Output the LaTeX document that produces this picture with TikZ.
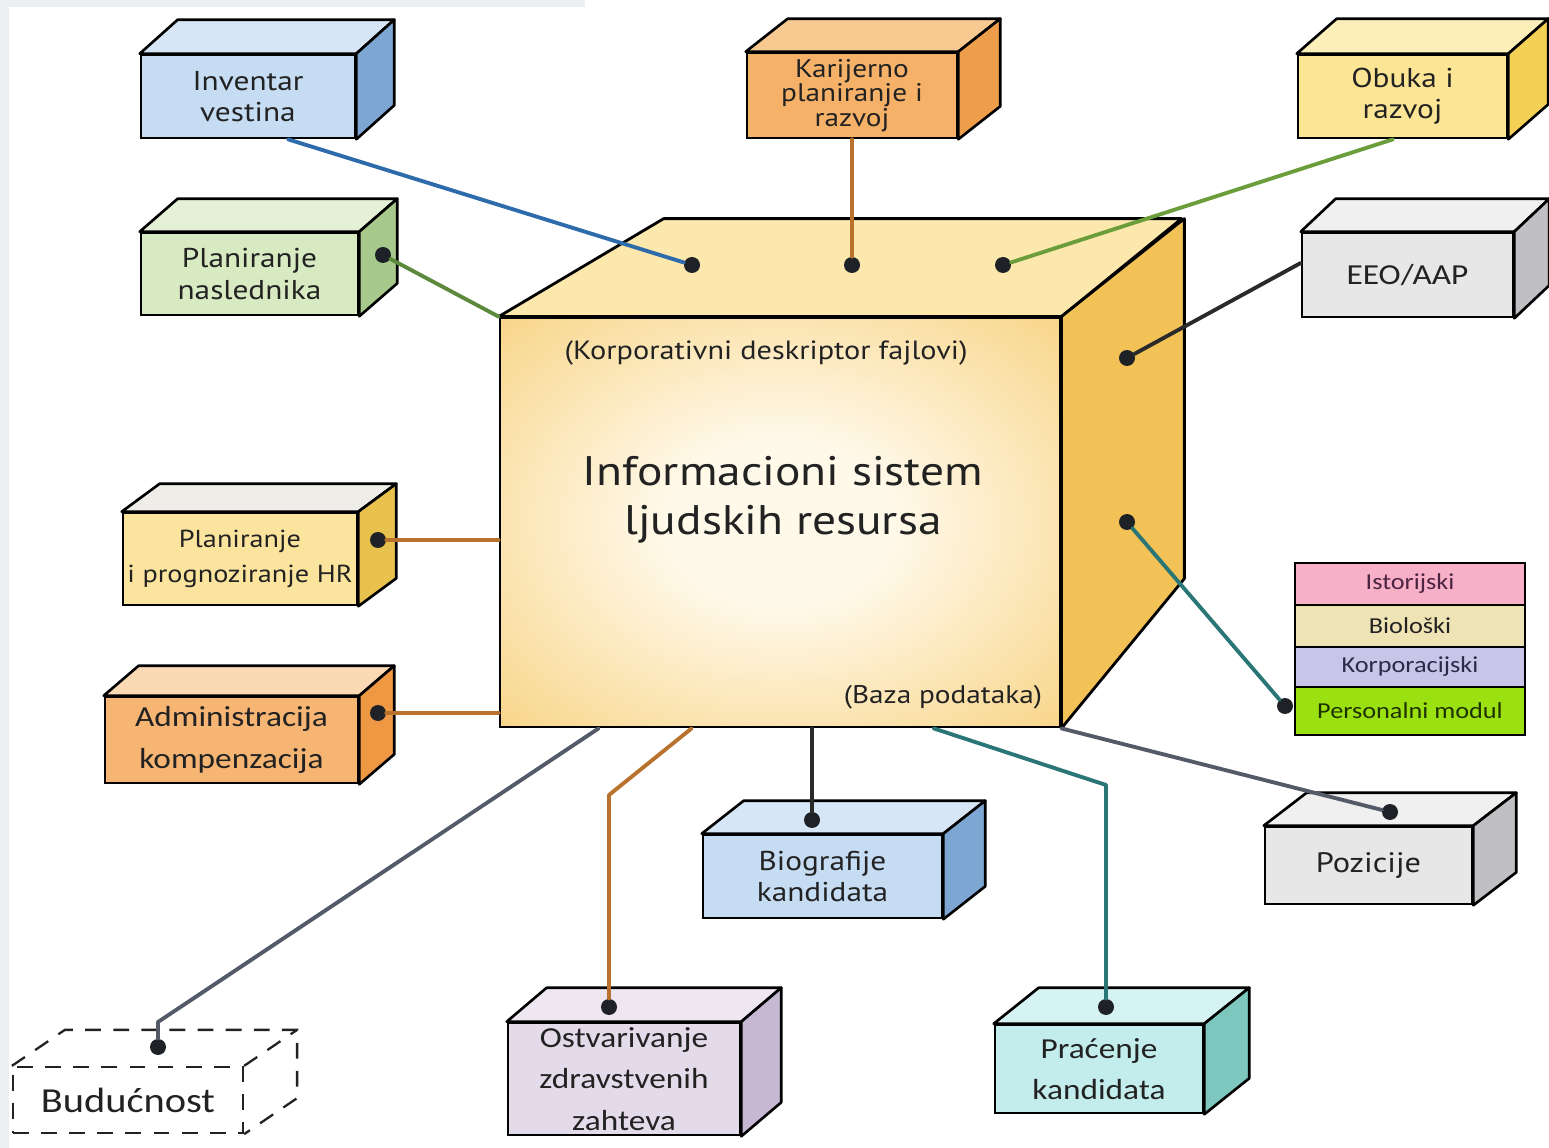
\documentclass[tikz,border=0pt]{standalone}
\usepackage{fontspec}
\setmainfont[FakeStretch=1.15]{Carlito}
\newfontfamily\optfont[FakeStretch=1.15]{PT Sans}
\usetikzlibrary{positioning}

\definecolor{txt}{HTML}{222222}
\definecolor{stripc}{HTML}{ECEFF2}
\definecolor{glowin}{HTML}{FFF9EA}
\definecolor{glowout}{HTML}{F7CF78}
\definecolor{cubetop}{HTML}{FCE7AD}
\definecolor{cubeside}{HTML}{F3C256}
\definecolor{bluef}{HTML}{C5DCF2}
\definecolor{bluet}{HTML}{D6E6F6}
\definecolor{blues}{HTML}{7EA6D3}
\definecolor{greenf}{HTML}{D7EAC2}
\definecolor{greent}{HTML}{E4F1D6}
\definecolor{greens}{HTML}{A7C98B}
\definecolor{orangef}{HTML}{F5B168}
\definecolor{oranget}{HTML}{F8C990}
\definecolor{oranges}{HTML}{EE9E4A}
\definecolor{yellowf}{HTML}{FCE594}
\definecolor{yellowt}{HTML}{FDEFBA}
\definecolor{yellows}{HTML}{F4D054}
\definecolor{grayf}{HTML}{E7E7E7}
\definecolor{grayt}{HTML}{F0F0F0}
\definecolor{grays}{HTML}{BFBFC4}
\definecolor{hrf}{HTML}{FBE59E}
\definecolor{hrt}{HTML}{EEEDE8}
\definecolor{hrs}{HTML}{E9C14E}
\definecolor{admf}{HTML}{F7B574}
\definecolor{admt}{HTML}{FBD9B5}
\definecolor{adms}{HTML}{EE9844}
\definecolor{lilacf}{HTML}{E4DBEA}
\definecolor{lilact}{HTML}{EEE7F2}
\definecolor{lilacs}{HTML}{C6B7D2}
\definecolor{tealf}{HTML}{C3ECEC}
\definecolor{tealt}{HTML}{D5F3F2}
\definecolor{teals}{HTML}{7DC7BF}
\definecolor{pinkl}{HTML}{F8AFC8}
\definecolor{beigel}{HTML}{EEE3B5}
\definecolor{lavl}{HTML}{C9C5E8}
\definecolor{limel}{HTML}{9BE011}
\definecolor{pinkt}{HTML}{4A2440}
\definecolor{lavt}{HTML}{2C2A48}
\definecolor{limet}{HTML}{1E3300}
\definecolor{wblue}{HTML}{2E6BAA}
\definecolor{wgreen}{HTML}{5B8A3C}
\definecolor{wlime}{HTML}{6B9E3A}
\definecolor{wbrown}{HTML}{B8722E}
\definecolor{wdark}{HTML}{2A2A2A}
\definecolor{wslate}{HTML}{535A68}
\definecolor{wteal}{HTML}{2A7676}
\definecolor{dotc}{HTML}{1E2226}

\pgfdeclareradialshading{cubeglow}{\pgfpoint{0bp}{0bp}}{color(0bp)=(glowin); color(10bp)=(glowin); color(40bp)=(glowout); color(50bp)=(glowout)}

\tikzset{
    boxedge/.style = {line width=1.5pt, draw=black, line join=round},
    hrbox/.style = {draw=black, line width=1.5pt, inner sep=0pt, align=center, text=txt},
    labopt/.style = {font=\optfont\fontsize{15.5}{17.8}\selectfont},
    labcal/.style = {font=\fontsize{16.5}{23.5}\selectfont},
    dashedge/.style = {line width=1.3pt, draw=txt, dash pattern=on 9pt off 7pt},
    layer/.style = {draw=black, line width=1.6pt, outer sep=0pt, inner sep=0pt, minimum width=4.6cm, font=\fontsize{13}{15}\selectfont},
    dot/.style = {circle, fill=dotc, inner sep=0pt, minimum size=0.32cm},
    wire/.style = {line width=2.2pt, line cap=round, line join=round},
    wireb/.style = {wire, wblue},
    wireg/.style = {wire, wgreen},
    wirel/.style = {wire, wlime},
    wirebr/.style = {wire, wbrown},
    wired/.style = {wire, wdark},
    wires/.style = {wire, wslate},
    wiret/.style = {wire, wteal}
}

% top and right faces of a box: node, dx, dy, top style, side style
\newcommand{\boxsides}[5]{%
  \draw[boxedge, #4] (#1.north west) -- ++(#2,#3) -- ([shift={(#2,#3)}]#1.north east) -- (#1.north east) -- cycle;
  \draw[boxedge, #5] (#1.north east) -- ++(#2,#3) -- ([shift={(#2,#3)}]#1.south east) -- (#1.south east) -- cycle;
}

\begin{document}
\begin{tikzpicture}[x=0.02cm, y=-0.02cm]
  \useasboundingbox (0,0) rectangle (1549,1148);
  \fill[stripc] (0,0) rectangle (9,1148);
  \fill[stripc] (0,0) rectangle (585,7);

  % main cube
  \node[draw=black, line width=1.6pt, shading=cubeglow, minimum width=11.2cm, minimum height=8.18cm] (hris) at (780,522.5) {};
  \draw[boxedge, line width=1.6pt, fill=cubetop] (hris.north west) -- ++(165,-98) -- ++(518,0) -- (hris.north east) -- cycle;
  \draw[boxedge, line width=1.6pt, fill=cubeside] (hris.north east) -- ++(123,-98) -- ++(0,360) -- (hris.south east) -- cycle;
  \node[text=txt, font=\optfont\fontsize{15}{17}\selectfont] (kdesc) at (766,353) {(Korporativni deskriptor fajlovi)};
  \node[text=txt, align=center, font=\optfont\fontsize{23.5}{28}\selectfont] (title) at (783,500) {Informacioni sistem\\ljudskih resursa};
  \node[text=txt, font=\optfont\fontsize{14.5}{16}\selectfont] (baza) at (943,697) {(Baza podataka)};

  % boxes around
  \node[hrbox, labopt, fill=bluef, minimum width=4.28cm, minimum height=1.66cm] (inv) at (248,96.5) {Inventar\\vestina};
  \boxsides{inv}{38}{-34}{fill=bluet}{fill=blues}
  \node[hrbox, labopt, fill=greenf, minimum width=4.34cm, minimum height=1.64cm] (nasl) at (249.5,274) {Planiranje\\naslednika};
  \boxsides{nasl}{38}{-33}{fill=greent}{fill=greens}
  \node[hrbox, font=\optfont\fontsize{14.5}{13.8}\selectfont, fill=orangef, minimum width=4.2cm, minimum height=1.7cm] (kar) at (852,95.5) {Karijerno\\planiranje i\\razvoj};
  \boxsides{kar}{42}{-33}{fill=oranget}{fill=oranges}
  \node[hrbox, labopt, fill=yellowf, minimum width=4.18cm, minimum height=1.66cm] (obuka) at (1402.5,96.5) {Obuka i\\razvoj};
  \boxsides{obuka}{40}{-35}{fill=yellowt}{fill=yellows}
  \node[hrbox, labcal, fill=grayf, minimum width=4.22cm, minimum height=1.68cm] (eeo) at (1407.5,275) {EEO/AAP};
  \boxsides{eeo}{35}{-33}{fill=grayt}{fill=grays}
  \node[hrbox, font=\optfont\fontsize{14}{20}\selectfont, fill=hrf, minimum width=4.68cm, minimum height=1.84cm] (hr) at (240,559) {Planiranje\\i prognoziranje HR};
  \boxsides{hr}{38}{-28}{fill=hrt}{fill=hrs}
  \node[hrbox, labcal, fill=admf, minimum width=5.06cm, minimum height=1.72cm] (adm) at (231.5,740) {Administracija\\kompenzacija};
  \boxsides{adm}{35}{-30}{fill=admt}{fill=adms}
  \node[hrbox, labcal, fill=lilacf, minimum width=4.64cm, minimum height=2.24cm] (ost) at (624,1079) {Ostvarivanje\\zdravstvenih\\zahteva};
  \boxsides{ost}{40}{-34}{fill=lilact}{fill=lilacs}
  \node[hrbox, labopt, fill=bluef, minimum width=4.78cm, minimum height=1.66cm] (bio) at (822.5,876.5) {Biografije\\kandidata};
  \boxsides{bio}{42}{-33}{fill=bluet}{fill=blues}
  \node[hrbox, labcal, fill=tealf, minimum width=4.16cm, minimum height=1.76cm] (prac) at (1099,1069) {Praćenje\\kandidata};
  \boxsides{prac}{45}{-36}{fill=tealt}{fill=teals}
  \node[hrbox, font=\optfont\fontsize{16}{18}\selectfont, fill=grayf, minimum width=4.14cm, minimum height=1.54cm] (poz) at (1368.5,865.5) {Pozicije};
  \boxsides{poz}{43}{-33}{fill=grayt}{fill=grays}

  % dashed box
  \node[dashedge, text=txt, inner sep=0pt, font=\fontsize{20}{22}\selectfont, minimum width=4.6cm, minimum height=1.32cm] (bud) at (128,1100) {Budućnost};
  \draw[dashedge] (bud.north west) -- ++(53,-36) -- ([shift={(53,-36)}]bud.north east) -- ([shift={(53,-36)}]bud.south east) -- (bud.south east);
  \draw[dashedge] (bud.north east) -- ++(53,-36);

  % modules
  \node[layer, fill=pinkl, text=pinkt, minimum height=0.84cm] (ist) at (1410,584) {Istorijski};
  \node[layer, fill=beigel, text=txt, minimum height=0.84cm, below=0pt of ist] (biol) {Biološki};
  \node[layer, fill=lavl, text=lavt, minimum height=0.8cm, below=0pt of biol] (korp) {Korporacijski};
  \node[layer, fill=limel, text=limet, minimum height=0.96cm, below=0pt of korp] (pers) {Personalni modul};

  % dots
  \node[dot] (td1) at (692,265) {};
  \node[dot] (td2) at (852,265) {};
  \node[dot] (td3) at (1003,265) {};
  \node[dot] (rd1) at (1127,358) {};
  \node[dot] (rd2) at (1127,522) {};
  \node[dot] (nasld) at (383,255) {};
  \node[dot] (hrd) at (378,540) {};
  \node[dot] (admd) at (378,713) {};
  \node[dot] (budd) at (158,1047) {};
  \node[dot] (ostd) at (609,1007) {};
  \node[dot] (biod) at (812,820) {};
  \node[dot] (pracd) at (1106,1007) {};
  \node[dot] (pozd) at (1390,812) {};
  \node[dot] (persd) at (1285,706) {};

  % connectors
  \draw[wireb] ([xshift=0.8cm]inv.south) -- (td1);
  \draw[wirebr] (kar.south) -- (td2);
  \draw[wirel] ([xshift=-0.19cm]obuka.south) -- (td3);
  \draw[wireg] (nasld) -- (hris.north west);
  \draw[wired] ([yshift=0.24cm]eeo.west) -- (rd1);
  \draw[wirebr] (hrd) -- (hrd -| hris.west);
  \draw[wirebr] (admd) -- (admd -| hris.west);
  \draw[wires] (budd) -- ++(0,-25) -- ([xshift=2cm]hris.south west);
  \draw[wirebr] (ostd) -- ++(0,-212) -- ([xshift=3.86cm]hris.south west);
  \draw[wired] (biod) -- (biod |- hris.south);
  \draw[wiret] (pracd) -- ++(0,-222) -- ([xshift=8.7cm]hris.south west);
  \draw[wires] (pozd) -- (hris.south east);
  \draw[wiret] (rd2) -- (persd);
\end{tikzpicture}
\end{document}
